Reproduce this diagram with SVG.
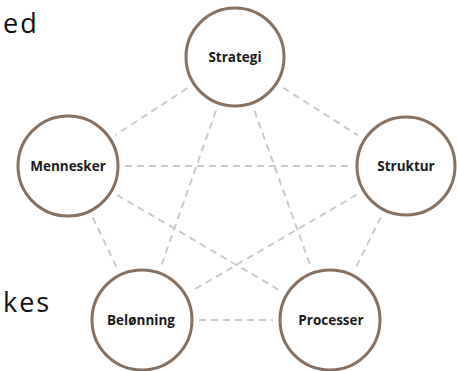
<svg xmlns="http://www.w3.org/2000/svg" width="457" height="371" viewBox="0 0 457 371">
  <style>
    .node circle { fill: #ffffff; stroke: #86705f; stroke-width: 3; }
    .node text { font-family: "Open Sans", "Noto Sans", sans-serif; font-weight: bold; font-size: 13.5px; fill: #1a1a1a; text-anchor: middle; }
    .edges line { stroke: #c9c9c9; stroke-width: 2; stroke-dasharray: 7 5; fill: none; }
    .side { font-family: "Open Sans", "Noto Sans", sans-serif; font-size: 27px; fill: #111111; letter-spacing: 2px; }
  </style>
  <rect width="457" height="371" fill="#ffffff"/>
  <text class="side" x="3" y="33">ed</text>
  <text class="side" x="3" y="312">kes</text>
  <g id="connectors" class="edges">
    <line x1="187.3" y1="88.2" x2="115.7" y2="134.8"/>
    <line x1="283.1" y1="87.6" x2="357.9" y2="135.4"/>
    <line x1="216" y1="110.7" x2="161" y2="266.3"/>
    <line x1="254.4" y1="110.6" x2="310.6" y2="266.4"/>
    <line x1="125" y1="166" x2="349" y2="166"/>
    <line x1="92.7" y1="217.4" x2="117.3" y2="268.6"/>
    <line x1="117.1" y1="194.9" x2="280.9" y2="291.1"/>
    <line x1="356.8" y1="194.7" x2="191.2" y2="291.3"/>
    <line x1="380.8" y1="217.1" x2="355.2" y2="268.9"/>
    <line x1="199" y1="320" x2="273" y2="320"/>
  </g>
  <g id="strategi" class="node">
    <circle cx="235" cy="57" r="49"/>
    <text x="235" y="62">Strategi</text>
  </g>
  <g id="mennesker" class="node">
    <circle cx="68" cy="166" r="50"/>
    <text x="68" y="171">Mennesker</text>
  </g>
  <g id="struktur" class="node">
    <circle cx="406" cy="166" r="49"/>
    <text x="406" y="171">Struktur</text>
  </g>
  <g id="belonning" class="node">
    <circle cx="142" cy="320" r="50"/>
    <text x="141" y="325">Belønning</text>
  </g>
  <g id="processer" class="node">
    <circle cx="330" cy="320" r="50"/>
    <text x="331" y="325">Processer</text>
  </g>
</svg>
